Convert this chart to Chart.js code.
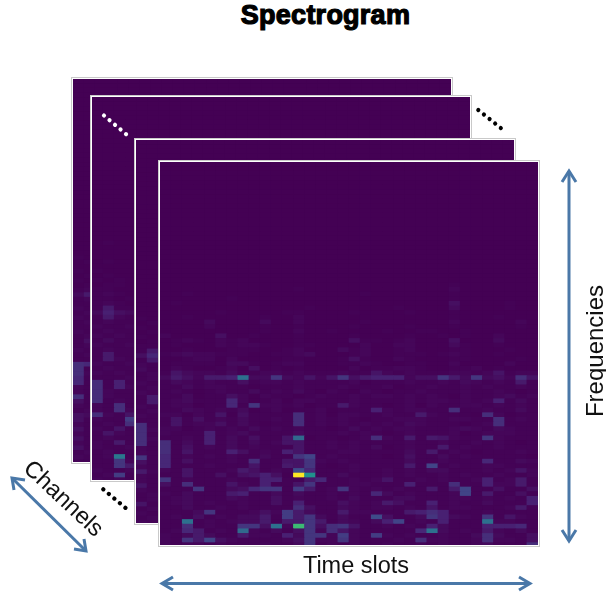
<!DOCTYPE html>
<html>
<head>
<meta charset="utf-8">
<title>Spectrogram</title>
<script src="https://cdn.jsdelivr.net/npm/chart.js@4"></script>
<style>
    html, body { margin: 0; padding: 0; background: #fff; }
    #page { position: relative; width: 606px; height: 597px; overflow: hidden; font-family: "Liberation Sans", Arial, sans-serif; color: #111; }
    .panel { position: absolute; box-sizing: border-box; background: #fff; border: 1px solid #c9c9c9; }
    .panel canvas { position: absolute; left: 1px; top: 1px; background: #440154; filter: blur(0.6px); }
    .label { position: absolute; white-space: nowrap; font-size: 23.5px; line-height: 28px; transform: translate(-50%, -50%); }
    #title { font-size: 27px; font-weight: bold; -webkit-text-stroke: 1.2px #000; letter-spacing: 0.25px; color: #000; }
    svg { position: absolute; left: 0; top: 0; }
</style>
</head>
<body>
<div id="page">
    <div class="label" id="title" style="left:325.5px;top:15px">Spectrogram</div>
    <div id="panels"></div>
    <svg width="606" height="597">
        <g fill="none" stroke="#4a78a8" stroke-width="3">
            <path d="M569 171V541"/><path d="M562 182L569 171L576 182"/><path d="M562 530L569 541L576 530"/>
            <path d="M162 583.5H530"/><path d="M173 577L162 583.5L173 590"/><path d="M519 577L530 583.5L519 590"/>
            <path d="M12 478L86 551"/><path d="M14 490L12 478L25 480"/><path d="M74 549L86 551L84 539"/>
        </g>
        <g fill="none" stroke-width="4.2" stroke-linecap="round" stroke-dasharray="0.01 7.2">
            <path stroke="#fff" d="M104 115.5L126.5 134.5"/>
            <path stroke="#000" d="M478.3 110L501.8 128.8"/>
            <path stroke="#000" d="M103.3 489.3L126.8 509"/>
        </g>
    </svg>
    <div class="label" style="left:356px;top:565px">Time slots</div>
    <div class="label" style="left:595px;top:351px;font-size:24px;transform:translate(-50%,-50%) rotate(-90deg)">Frequencies</div>
    <div class="label" style="left:64px;top:498px;transform:translate(-50%,-50%) rotate(43deg)">Channels</div>
</div>

<script>
// rows run top to bottom, one base-36 digit per cell (0 = darkest, z = brightest)
const columnCount = 34;
const rowCount = 83;

const frontRows = [
    "00000 00000 00000 00000 00000 01000 0000",
    "00000 00000 00100 00000 00000 02000 0000",
    "00100 00000 00000 00010 00000 01000 0000",
    "00000 01000 00000 00000 00000 01000 0000",
    "01000 00000 00000 00000 00000 04000 0100",
    "00000 00000 00010 00000 01000 03000 0100",
    "00000 10000 01100 00100 00100 01000 0000",
    "00100 00001 00200 00000 00000 01000 1000",
    "00003 00003 00200 00010 00000 02000 0020",
    "00002 00001 00100 00100 00100 01000 0010",
    "00000 00001 00200 10000 10011 00100 0000",
    "20000 40010 00100 00100 00100 10100 2000",
    "01210 21200 00100 00411 01200 04000 3000",
    "01000 21221 00110 00020 02200 03100 1000",
    "00100 01110 01200 03120 01200 01100 0100",
    "12322 11100 11230 00120 01110 12100 1000",
    "00122 02000 01100 01410 02100 01100 0010",
    "01111 03310 12200 01121 00110 02000 0200",
    "02100 12040 10100 00201 12210 01120 1000",
    "15322 13112 21211 12115 21211 12212 5122",
    "36426 67i33 a3252 5a467 77244 a63a3 4295",
    "13212 11412 21211 11201 11211 21321 2161",
    "11312 21101 11211 12111 20112 11212 1121",
    "12101 21131 21310 21021 01121 11211 2101",
    "11301 14202 11012 11212 21212 10211 2312",
    "12311 18201 20221 11211 11212 21212 7131",
    "12201 181a2 21201 16211 01202 11221 2121",
    "11321 21301 20112 01117 21221 19112 1131",
    "22021 50411 11912 02211 21162 11109 2011",
    "15141 21311 21912 12101 12221 12211 9121",
    "15122 41310 11912 12121 21321 11012 9111",
    "22012 12131 21211 01312 12211 12321 3211",
    "21117 12311 11311 12121 01211 12012 2211",
    "11217 13141 15h01 10129 21616 5211a 2111",
    "91317 13131 25511 21211 11211 21121 2101",
    "91412 13121 11511 21213 01211 61211 2111",
    "91511 17412 17511 12211 11316 12101 1121",
    "81212 12113 11ac1 21111 01411 31211 1110",
    "81411 12191 155a2 12111 11311 21118 1132",
    "81112 11151 165a1 01211 1161c 12112 2111",
    "21511 12641 21d81 11211 21213 31112 1252",
    "11511 41457 40zm1 13111 21211 21211 2112",
    "a1211 12117 71168 11212 51121 21127 1261",
    "41911 15217 115a1 11221 11711 19117 2261",
    "111a1 1348a a1b61 2a212 12116 16c11 4114",
    "21311 16711 31311 21218 31211 12c16 1141",
    "12311 13211 41211 21311 13311 12212 1217",
    "12312 11211 41711 14212 64117 12113 1117",
    "11311 21211 11941 13212 21215 12211 1261",
    "1113a 11124 2b631 16221 11679 71112 1111",
    "12141 21336 1b6a3 1311d 4113a 7321a 1521",
    "11i12 12336 166a6 13213 7c121 7111i 2211",
    "11912 11aa4 i2ra4 9a511 21217 31117 7781",
    "12861 21h21 314a2 95211 1118i 31216 2131",
    "21363 11622 173aa 2b21b 21211 21139 3114",
    "21a6c 42111 124a2 2a211 12192 21129 2214",
    "21221 21112 113a1 21211 21121 21123 1119"
];

// only the columns that show past the panel in front are listed for the others
const backRows = [
    "00", "00", "00", "00", "00", "00", "00", "00", "00", "00",
    "00", "00", "10", "01", "00", "10", "01", "10", "01", "12",
    "36", "12", "11", "21", "12", "21", "12", "11", "21", "12",
    "14", "12", "21", "12", "11", "98", "91", "92", "81", "81",
    "21", "21", "91", "41", "21", "12", "43", "41", "21", "41",
    "21", "41", "21", "41", "12", "21", "11"
];
const secondRows = [
    "0000", "0000", "0000", "0000", "0000", "0100", "0000", "0000", "0000", "0100",
    "0000", "1000", "0100", "1010", "0110", "1100", "1210", "1101", "1210", "1611",
    "3743", "1621", "1211", "2112", "1211", "2121", "1311", "2112", "1211", "1611",
    "1621", "2112", "1211", "2121", "1112", "9171", "9172", "9211", "9211", "9121",
    "2191", "2192", "9215", "211b", "1219", "2151", "1521", "1211", "2161", "2112",
    "1211", "12j1", "11a2", "11a6", "2112", "12b1", "2121"
];
const thirdRows = [
    "00", "00", "00", "00", "00", "00", "00", "00", "00", "00",
    "00", "00", "10", "01", "10", "01", "10", "01", "11", "16",
    "48", "16", "21", "31", "12", "12", "21", "12", "21", "16",
    "16", "21", "12", "21", "11", "91", "92", "91", "92", "91",
    "21", "21", "a1", "41", "21", "62", "21", "21", "51", "21",
    "12", "12", "51", "12", "21", "12", "21"
];

const viridisStops = ["#440154", "#482475", "#414487", "#355f8d", "#2a788e", "#21918c", "#22a884", "#44bf70", "#7ad151", "#bddf26", "#fde725"];
const colorGamma = 1.5;

function hexToRgb(hex) {
    return [1, 3, 5].map(i => parseInt(hex.slice(i, i + 2), 16));
}

function cellColor(value) {
    const pos = Math.pow(value, colorGamma) * (viridisStops.length - 1);
    const low = Math.min(Math.floor(pos), viridisStops.length - 2);
    const a = hexToRgb(viridisStops[low]);
    const b = hexToRgb(viridisStops[low + 1]);
    const t = pos - low;
    return 'rgb(' + a.map((c, i) => Math.round(c + (b[i] - c) * t)).join(',') + ')';
}

function cellValue(rows, row, col) {
    // the listed rows are the lower ones, everything above stays dark
    const text = rows[row - (rowCount - rows.length)];
    if (!text) return 0;
    const ch = text.replace(/ /g, '')[col];
    return ch ? parseInt(ch, 36) / 35 : 0;
}

function drawPanel(rows, left, top) {
    const width = 378, height = 383;
    const holder = document.createElement('div');
    holder.className = 'panel';
    holder.style.cssText = 'left:' + left + 'px;top:' + top + 'px;width:' + (width + 4) + 'px;height:' + (height + 4) + 'px';
    const canvas = document.createElement('canvas');
    canvas.width = width;
    canvas.height = height;
    holder.appendChild(canvas);
    document.getElementById('panels').appendChild(holder);

    const labels = [];
    for (let c = 0; c < columnCount; c++) labels.push(c);

    // stacked bars, bottom row first, each cell has height 1
    const datasets = [];
    for (let r = rowCount - 1; r >= 0; r--) {
        datasets.push({
            data: labels.map(() => 1),
            backgroundColor: labels.map(c => cellColor(cellValue(rows, r, c))),
            borderWidth: 0,
            barPercentage: 1,
            categoryPercentage: 1
        });
    }

    return new Chart(canvas.getContext('2d'), {
        type: 'bar',
        data: { labels: labels, datasets: datasets },
        options: {
            responsive: false,
            animation: false,
            events: [],
            layout: { padding: 0 },
            plugins: { legend: { display: false }, title: { display: false }, tooltip: { enabled: false } },
            scales: {
                x: { stacked: true, display: false },
                y: { stacked: true, display: false, min: 0.5, max: rowCount }
            }
        }
    });
}

drawPanel(backRows, 71, 77);
drawPanel(secondRows, 90, 95);
drawPanel(thirdRows, 134, 138);
drawPanel(frontRows, 158, 160);
</script>
</body>
</html>
